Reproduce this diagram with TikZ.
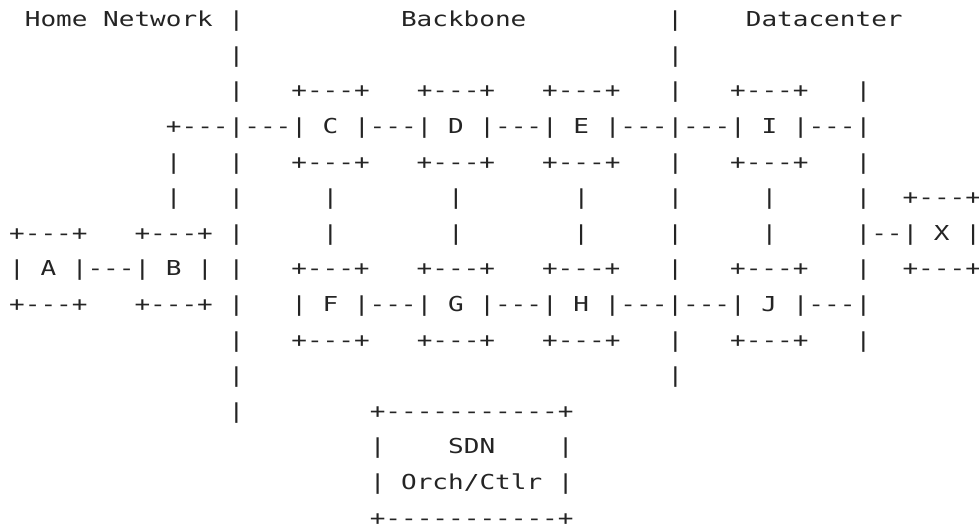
\documentclass[tikz,border=0pt]{standalone}
\usepackage{fontspec}
\newfontfamily\asciifont[FakeStretch=1.2655,Ligatures=TeXOff]{DejaVu Sans Mono}
\definecolor{ink}{RGB}{36,36,36}
\ExplSyntaxOn
\NewDocumentCommand\asciigap{m}{\prg_replicate:nn{#1}{\nobreakspace}}
\ExplSyntaxOff
\begin{document}
\begin{tikzpicture}[x=0.75pt,y=-0.75pt,
  asciiline/.style={anchor=base west,inner sep=0pt,outer sep=0pt,text=ink,
    font=\asciifont\fontsize{15.43pt}{18pt}\selectfont}]
\useasboundingbox (0,0) rectangle (979,529);
\def\colx#1{9.16+15.68*#1}
\def\rowy#1{26.7+35.6*#1}
\node[asciiline] (row0) at ({\colx{1}},{\rowy{0}}) {Home~Network~|\asciigap{10}Backbone\asciigap{9}|\asciigap{4}Datacenter};
\node[asciiline] (row1) at ({\colx{14}},{\rowy{1}}) {|\asciigap{27}|};
\node[asciiline] (row2) at ({\colx{14}},{\rowy{2}}) {|~~~+---+~~~+---+~~~+---+~~~|~~~+---+~~~|};
\node[asciiline] (row3) at ({\colx{10}},{\rowy{3}}) {+---|---|~C~|---|~D~|---|~E~|---|---|~I~|---|};
\node[asciiline] (row4) at ({\colx{10}},{\rowy{4}}) {|~~~|~~~+---+~~~+---+~~~+---+~~~|~~~+---+~~~|};
\node[asciiline] (row5) at ({\colx{10}},{\rowy{5}}) {|~~~|\asciigap{5}|\asciigap{7}|\asciigap{7}|\asciigap{5}|\asciigap{5}|\asciigap{5}|~~+---+};
\node[asciiline] (row6) at ({\colx{0}},{\rowy{6}}) {+---+~~~+---+~|\asciigap{5}|\asciigap{7}|\asciigap{7}|\asciigap{5}|\asciigap{5}|\asciigap{5}|--|~X~|};
\node[asciiline] (row7) at ({\colx{0}},{\rowy{7}}) {|~A~|---|~B~|~|~~~+---+~~~+---+~~~+---+~~~|~~~+---+~~~|~~+---+};
\node[asciiline] (row8) at ({\colx{0}},{\rowy{8}}) {+---+~~~+---+~|~~~|~F~|---|~G~|---|~H~|---|---|~J~|---|};
\node[asciiline] (row9) at ({\colx{14}},{\rowy{9}}) {|~~~+---+~~~+---+~~~+---+~~~|~~~+---+~~~|};
\node[asciiline] (row10) at ({\colx{14}},{\rowy{10}}) {|\asciigap{27}|};
\node[asciiline] (row11) at ({\colx{14}},{\rowy{11}}) {|\asciigap{8}+-----------+};
\node[asciiline] (row12) at ({\colx{23}},{\rowy{12}}) {|~~~~SDN~~~~|};
\node[asciiline] (row13) at ({\colx{23}},{\rowy{13}}) {|~Orch/Ctlr~|};
\node[asciiline] (row14) at ({\colx{23}},{\rowy{14}}) {+-----------+};
\end{tikzpicture}
\end{document}
